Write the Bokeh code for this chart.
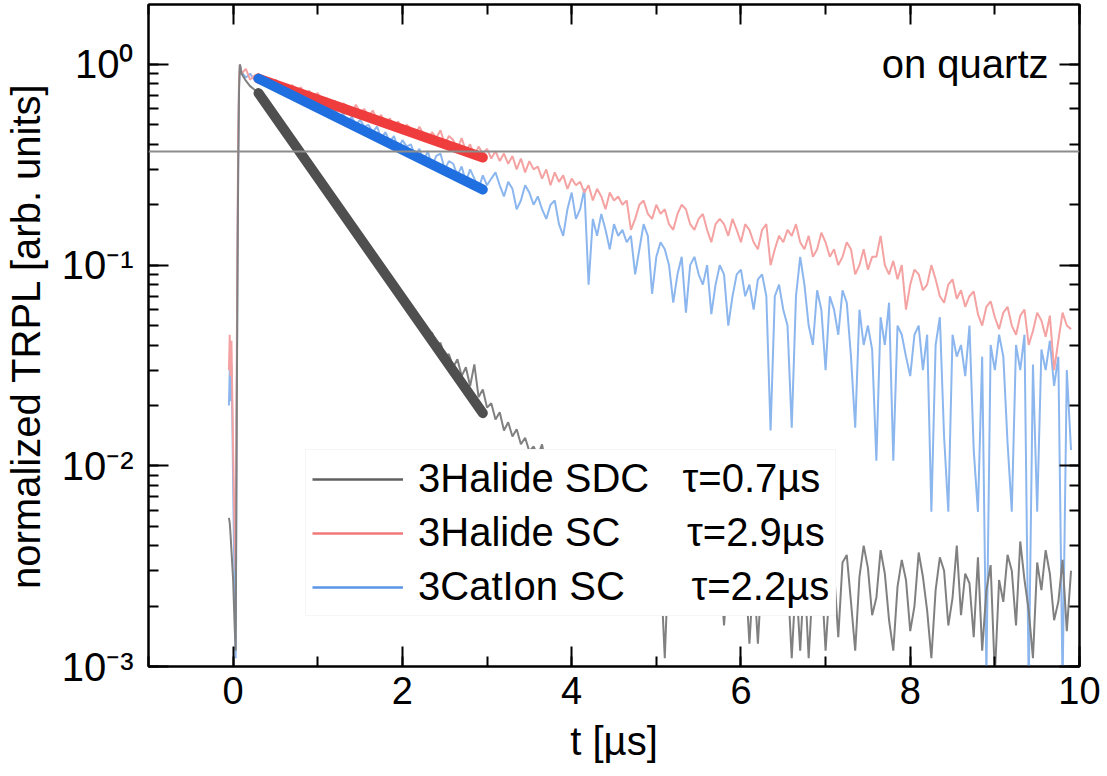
import numpy as np
from bokeh.plotting import figure
from bokeh.models import (Range1d, LogAxis, LinearAxis, SingleIntervalTicker, LogTicker,
                          Span, Label, Legend, LegendItem, CustomJSTickFormatter)
from bokeh.embed import file_html
from bokeh.resources import INLINE

FONT = "Liberation Sans"

# ---------------- data ----------------
t_pre = [-0.05, -0.04, -0.03, -0.02, -0.01, 0.00, 0.01, 0.02, 0.03, 0.04, 0.05, 0.06, 0.07, 0.08, 0.09]
t_main = np.round(np.arange(0.10, 9.901, 0.05), 2)

red_pre = [0.030, 0.045, 0.028, 0.042, 0.022, 0.012, 0.007, 0.004, 0.003, 0.02, 0.12, 0.45, 0.85, 1.00, 0.94]
blue_pre = [0.020, 0.030, 0.021, 0.032, 0.018, 0.008, 0.004, 0.002, 0.0011, 0.012, 0.08, 0.35, 0.80, 1.00, 0.95]
gray_pre = [0.0055, 0.0052, 0.0045, 0.0038, 0.0032, 0.0027, 0.0020, 0.0015, 0.0012, 0.01, 0.07, 0.30, 0.75, 1.00, 0.95]

red_rows = [
    [0.90, 0.95, 0.84, 0.88, 0.90, 0.83, 0.86, 0.81, 0.84, 0.79],
    [0.80, 0.76, 0.79, 0.74, 0.77, 0.71, 0.74, 0.69, 0.72, 0.66],
    [0.68, 0.63, 0.66, 0.60, 0.64, 0.62, 0.57, 0.63, 0.58, 0.60],
    [0.55, 0.59, 0.53, 0.56, 0.50, 0.54, 0.49, 0.52, 0.47, 0.50],
    [0.48, 0.44, 0.49, 0.45, 0.41, 0.46, 0.43, 0.47, 0.40, 0.44],
    [0.42, 0.38, 0.43, 0.37, 0.40, 0.35, 0.39, 0.36, 0.38, 0.34],
    [0.37, 0.33, 0.36, 0.32, 0.35, 0.30, 0.34, 0.29, 0.33, 0.30],
    [0.31, 0.27, 0.30, 0.25, 0.29, 0.26, 0.28, 0.24, 0.27, 0.25],
    [0.26, 0.23, 0.25, 0.21, 0.24, 0.22, 0.19, 0.23, 0.21, 0.22],
    [0.20, 0.21, 0.15, 0.17, 0.20, 0.21, 0.18, 0.17, 0.20, 0.18],
    [0.19, 0.16, 0.15, 0.18, 0.20, 0.19, 0.16, 0.15, 0.17, 0.18],
    [0.15, 0.13, 0.16, 0.17, 0.16, 0.14, 0.17, 0.15, 0.13, 0.16],
    [0.15, 0.13, 0.12, 0.15, 0.16, 0.10, 0.12, 0.14, 0.13, 0.15],
    [0.14, 0.16, 0.13, 0.12, 0.14, 0.11, 0.12, 0.145, 0.13, 0.11],
    [0.12, 0.10, 0.11, 0.13, 0.12, 0.09, 0.10, 0.12, 0.095, 0.11],
    [0.11, 0.14, 0.10, 0.09, 0.105, 0.085, 0.10, 0.06, 0.08, 0.095],
    [0.09, 0.075, 0.08, 0.10, 0.085, 0.07, 0.065, 0.08, 0.085, 0.068],
    [0.075, 0.062, 0.07, 0.074, 0.057, 0.05, 0.062, 0.066, 0.055, 0.048],
    [0.058, 0.062, 0.05, 0.045, 0.056, 0.06, 0.04, 0.047, 0.058, 0.053],
    [0.044, 0.056, 0.03, 0.042, 0.058, 0.05, 0.048],
]

blue_rows = [
    [0.92, 0.86, 0.90, 0.84, 0.87, 0.80, 0.83, 0.78, 0.81, 0.75],
    [0.77, 0.72, 0.74, 0.69, 0.71, 0.66, 0.69, 0.63, 0.65, 0.61],
    [0.62, 0.57, 0.60, 0.55, 0.57, 0.51, 0.55, 0.50, 0.53, 0.49],
    [0.50, 0.46, 0.49, 0.43, 0.46, 0.41, 0.44, 0.38, 0.42, 0.39],
    [0.40, 0.35, 0.38, 0.33, 0.37, 0.31, 0.35, 0.36, 0.30, 0.33],
    [0.32, 0.28, 0.31, 0.26, 0.30, 0.27, 0.24, 0.28, 0.25, 0.27],
    [0.29, 0.25, 0.22, 0.26, 0.24, 0.19, 0.21, 0.25, 0.23, 0.20],
    [0.22, 0.19, 0.17, 0.20, 0.21, 0.16, 0.14, 0.19, 0.23, 0.17],
    [0.19, 0.24, 0.08, 0.17, 0.14, 0.18, 0.15, 0.12, 0.16, 0.14],
    [0.15, 0.13, 0.14, 0.09, 0.12, 0.16, 0.14, 0.072, 0.11, 0.13],
    [0.12, 0.10, 0.065, 0.09, 0.11, 0.058, 0.10, 0.11, 0.09, 0.08],
    [0.10, 0.057, 0.08, 0.10, 0.09, 0.05, 0.07, 0.09, 0.095, 0.07],
    [0.08, 0.06, 0.085, 0.09, 0.07, 0.015, 0.07, 0.08, 0.06, 0.05],
    [0.0155, 0.07, 0.11, 0.08, 0.05, 0.04, 0.075, 0.06, 0.03, 0.07],
    [0.06, 0.045, 0.075, 0.065, 0.035, 0.0155, 0.06, 0.04, 0.05, 0.038],
    [0.0106, 0.055, 0.04, 0.065, 0.0106, 0.05, 0.045, 0.035, 0.028, 0.045],
    [0.05, 0.03, 0.045, 0.0059, 0.04, 0.055, 0.014, 0.0059, 0.045, 0.035],
    [0.04, 0.028, 0.05, 0.012, 0.0059, 0.035, 0.0009, 0.04, 0.03, 0.045],
    [0.035, 0.013, 0.0059, 0.04, 0.03, 0.045, 0.0008, 0.032, 0.0059, 0.038],
    [0.03, 0.042, 0.025, 0.035, 0.0008, 0.03, 0.012],
]

gray_rows = [
    [0.90, 0.83, 0.78, 0.75, 0.72, 0.68, 0.63, 0.59, 0.55, 0.51],
    [0.48, 0.445, 0.41, 0.39, 0.355, 0.34, 0.31, 0.295, 0.27, 0.258],
    [0.236, 0.225, 0.205, 0.196, 0.178, 0.171, 0.155, 0.149, 0.134, 0.13],
    [0.118, 0.114, 0.102, 0.099, 0.089, 0.087, 0.078, 0.076, 0.069, 0.066],
    [0.060, 0.059, 0.053, 0.051, 0.046, 0.046, 0.040, 0.041, 0.035, 0.036],
    [0.031, 0.034, 0.028, 0.031, 0.025, 0.032, 0.022, 0.024, 0.0195, 0.0205],
    [0.017, 0.0185, 0.015, 0.0165, 0.014, 0.0152, 0.0128, 0.0138, 0.0118, 0.0125],
    [0.0112, 0.0128, 0.0098, 0.0105, 0.0090, 0.0094, 0.0078, 0.0088, 0.0072, 0.0078],
    [0.0070, 0.0062, 0.0068, 0.0058, 0.0063, 0.0052, 0.0060, 0.0049, 0.0055, 0.0047],
    [0.0052, 0.0044, 0.0050, 0.0041, 0.0046, 0.0037, 0.0045, 0.0040, 0.0043, 0.0032],
    [0.0011, 0.0040, 0.0035, 0.0042, 0.0031, 0.0038, 0.0033, 0.0036, 0.0029, 0.0035],
    [0.0030, 0.0034, 0.0028, 0.0033, 0.0016, 0.0031, 0.0027, 0.0033, 0.0025, 0.0031],
    [0.0013, 0.0030, 0.0013, 0.0031, 0.0026, 0.0032, 0.0024, 0.0030, 0.0019, 0.0029],
    [0.0011, 0.0028, 0.0012, 0.0030, 0.0011, 0.0027, 0.0021, 0.0029, 0.0012, 0.0026],
    [0.0030, 0.0014, 0.0033, 0.0036, 0.0021, 0.0012, 0.0028, 0.0040, 0.0031, 0.0018],
    [0.0022, 0.0038, 0.0029, 0.0017, 0.0012, 0.0025, 0.0034, 0.0027, 0.0015, 0.0020],
    [0.0037, 0.0028, 0.0019, 0.0011, 0.0024, 0.0035, 0.0030, 0.0016, 0.0022, 0.0040],
    [0.0018, 0.0029, 0.0026, 0.0014, 0.0035, 0.0012, 0.0024, 0.0032, 0.0009, 0.0027],
    [0.0021, 0.0036, 0.0030, 0.0016, 0.0042, 0.0027, 0.0019, 0.0011, 0.0033, 0.0024],
    [0.0038, 0.0029, 0.0017, 0.0021, 0.0034, 0.0015, 0.0030],
]

# mono-exponential fits (end points)
fit_t = [0.30, 2.95]
fit_gray = [0.72, 0.0183]
fit_red = [0.85, 0.344]
fit_blue = [0.85, 0.238]
one_over_e = 0.368

series_names = ["3Halide SDC", "3Halide SC", "3CatIon SC"]
series_tau = ["τ=0.7µs", "τ=2.9µs", "τ=2.2µs"]
name_gap = [3, 6, 6]

x_ticks_interval = 2
y_tick_vals = [1e-3, 1e-2, 1e-1, 1e0]
y_tick_labels = ["10\u207b\u00b3", "10\u207b\u00b2", "10\u207b\u00b9", "10\u2070"]
annotation_text = "on quartz"


def flat(rows):
    return [v for r in rows for v in r]


t_all = list(t_pre) + list(t_main)
red_y = red_pre + flat(red_rows)
blue_y = blue_pre + flat(blue_rows)
gray_y = gray_pre + flat(gray_rows)
assert len(red_y) == len(t_all) == len(blue_y) == len(gray_y)

# ---------------- figure ----------------
p = figure(width=1105, height=772, x_range=Range1d(-1, 10), y_range=Range1d(1e-3, 1.99),
           y_axis_type="log", output_backend="svg", toolbar_location=None,
           min_border_left=148, min_border_right=26, min_border_top=4, min_border_bottom=106)
p.grid.visible = False
p.outline_line_color = "black"
p.outline_line_width = 2
p.background_fill_color = "white"
p.border_fill_color = "white"

blank = CustomJSTickFormatter(code="return '';")


def style_axis(ax, labels=True):
    ax.major_tick_in = 20
    ax.major_tick_out = 0
    ax.minor_tick_in = 10
    ax.minor_tick_out = 0
    ax.major_tick_line_width = 2
    ax.minor_tick_line_width = 2
    ax.axis_line_width = 2
    ax.major_tick_line_color = "black"
    ax.minor_tick_line_color = "black"
    ax.axis_line_color = "black"
    if not labels:
        ax.formatter = blank
        ax.major_label_standoff = 0


xt = SingleIntervalTicker(interval=x_ticks_interval, num_minor_ticks=2)
p.xaxis.ticker = xt
style_axis(p.xaxis[0])
p.xaxis.major_label_text_font = FONT
p.xaxis.major_label_text_font_size = "38px"
p.xaxis.major_label_text_color = "black"
p.xaxis.major_label_standoff = 10
p.xaxis.axis_label = "t [µs]"
p.xaxis.axis_label_text_font = FONT
p.xaxis.axis_label_text_font_size = "40px"
p.xaxis.axis_label_text_font_style = "normal"
p.xaxis.axis_label_text_color = "black"
p.xaxis.axis_label_standoff = 12

style_axis(p.yaxis[0])
p.yaxis.formatter = CustomJSTickFormatter(
    args=dict(vals=y_tick_vals, labels=y_tick_labels),
    code="""
    for (let i = 0; i < vals.length; i++) {
        if (Math.abs(Math.log10(tick) - Math.log10(vals[i])) < 1e-6) { return labels[i]; }
    }
    return '';
    """)
p.yaxis.major_label_text_font = FONT
p.yaxis.major_label_text_font_size = "40px"
p.yaxis.major_label_text_color = "black"
p.yaxis.major_label_standoff = 15
p.yaxis.axis_label = "normalized TRPL [arb. units]"
p.yaxis.axis_label_text_font = FONT
p.yaxis.axis_label_text_font_size = "40px"
p.yaxis.axis_label_text_font_style = "normal"
p.yaxis.axis_label_text_color = "black"
p.yaxis.axis_label_standoff = 11

top = LinearAxis(ticker=SingleIntervalTicker(interval=x_ticks_interval, num_minor_ticks=2))
style_axis(top, labels=False)
p.add_layout(top, "above")
right = LogAxis(ticker=LogTicker())
style_axis(right, labels=False)
p.add_layout(right, "right")

# data
p.line(t_all, blue_y, line_color="#8cb6ee", line_width=2)
p.line(t_all, red_y, line_color="#f4a2a2", line_width=2)
p.line(t_all, gray_y, line_color="#808080", line_width=2)

p.add_layout(Span(location=one_over_e, dimension="width", line_color="#8c8c8c", line_width=2))

p.line(fit_t, fit_gray, line_color="#4f4f4f", line_width=10, line_cap="round")
p.line(fit_t, fit_red, line_color="#ef3d3d", line_width=10, line_cap="round")
p.line(fit_t, fit_blue, line_color="#1f6fe0", line_width=10, line_cap="round")

p.add_layout(Label(x=10, y=1, x_offset=-31, y_offset=0, text=annotation_text,
                   text_align="right", text_baseline="alphabetic", text_font=FONT,
                   text_font_size="40px", text_color="black"))

# legend (own glyph renderers; a single-point line draws nothing in the plot)
leg_colors = ["#606060", "#f07878", "#5a95e6"]
items = []
for name, tau, gap, col in zip(series_names, series_tau, name_gap, leg_colors):
    r = p.line(x=[-5], y=[1], line_color=col, line_width=2.5)
    items.append(LegendItem(label=name + "\u00a0" * gap + tau, renderers=[r]))
legend = Legend(items=items, location=(157, 50), glyph_width=91, glyph_height=30,
                label_standoff=15, padding=6, spacing=9, margin=0,
                label_text_font=FONT, label_text_font_size="40px", label_text_color="black",
                border_line_color="#eeeeee", border_line_width=1,
                background_fill_color="white", background_fill_alpha=1.0)
p.add_layout(legend)

open("out.html", "w").write(file_html(p, INLINE))
